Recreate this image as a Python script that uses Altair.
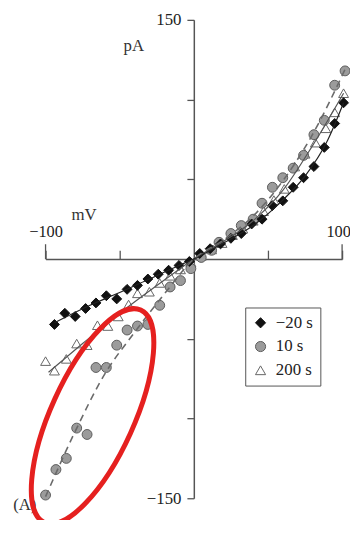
import altair as alt
import pandas as pd

# ---------------- data ----------------
series_names = ["−20 s", "10 s", "200 s"]

dia_x = [-94, -87, -80, -73, -66, -59, -52, -45, -38, -31, -24, -17, -10, -3,
         4, 11, 18, 25, 32, 39, 46, 53, 60, 67, 74, 81, 88, 95, 101]
dia_y = [-41, -34, -36, -31, -27.5, -23, -25, -19, -16.5, -12.5, -9.5, -7, -4, -1.5,
         3.5, 6.5, 9.5, 13, 16, 22, 25, 33.5, 36.5, 45, 51, 58, 70, 85, 98]

cir_x = [-100, -93, -86, -79, -72, -66, -59, -52, -45, -38, -31, -23, -16, -9, -2,
         5, 12, 17, 25, 32, 40, 46, 53, 60, 67, 74, 81, 88, 95, 102]
cir_y = [-148, -132, -125, -106, -110, -68, -68, -54, -44.5, -42, -41, -29, -17.5, -13.5, -6,
         1, 5.5, 10.5, 16, 21, 25, 35, 45, 51, 57, 65, 78, 87, 109, 118]

tri_x = [-100, -94, -86, -79, -72, -65, -58, -51, -44, -38, -30, -23, -16, -9, -2,
         5, 12, 19, 26, 33, 40, 47, 54, 61, 68, 75, 82, 89, 95, 101]
tri_y = [-64, -70, -62.6, -53, -54, -41.5, -42, -36, -28.5, -21.5, -20.5, -15, -10.5, -6.5, -2,
         2, 6, 10, 15, 19, 24, 30, 37, 44, 58, 66, 73, 82, 92, 104]

# fitted curves
fit_d_x = [-94, -70, -50, -30, -10, 0, 20, 40, 60, 75, 90, 101]
fit_d_y = [-40, -29, -21, -12.5, -4, 0, 10, 21, 37, 52, 74, 98]
fit_t_x = [-98, -75, -50, -30, -10, 0, 20, 40, 60, 80, 101]
fit_t_y = [-71, -53, -34, -20, -6.5, 0, 11, 24, 43, 71, 104]
fit_c_x = [-100, -80, -60, -40, -20, 0, 20, 40, 60, 80, 102]
fit_c_y = [-149, -108, -72, -46, -22, 0, 12, 27, 49, 78, 119]

# axis ticks and labels
x_ticks = [-100, -50, 50, 100]
x_end_ticks = [-100, 100]
x_tick_labels = {-100: "−100", 100: "100"}
y_ticks = [-150, -100, -50, 50, 100, 150]
y_tick_labels = {150: "150", -150: "−150"}

# annotations
ann_text = ["pA", "mV", "(A)"]
ann_x = [-40.5, -74, -114]
ann_y = [133.5, 27.8, -154]

# red highlight ellipse (centre in data units)
ell_x = [-68.3]
ell_y = [-98.6]

# ---------------- build ----------------
FONT = "Liberation Serif"
AX = "#555555"

rows = []
for name, xs, ys in [(series_names[2], tri_x, tri_y),
                     (series_names[1], cir_x, cir_y),
                     (series_names[0], dia_x, dia_y)]:
    for xv, yv in zip(xs, ys):
        rows.append({"series": name, "x": xv, "y": yv})
pts = pd.DataFrame(rows)

xscale = alt.Scale(domain=[-100, 100], nice=False, zero=False)
yscale = alt.Scale(domain=[-150, 150], nice=False, zero=False)


def label_expr(d):
    parts = " : ".join(f"datum.value == {k} ? '{v}'" for k, v in d.items())
    return parts + " : ''"


x_axis = alt.Axis(orient="top", offset=-242, values=x_ticks, tickSize=9, tickWidth=1.3,
                  tickColor=AX, domainColor=AX, domainWidth=1.5, grid=False, title=None,
                  labelExpr=label_expr(x_tick_labels), labelFont=FONT, labelFontSize=16.5,
                  labelOffset={"condition": {"test": "datum.value == 100", "value": -4},
                               "value": 0},
                  labelColor="#222222", labelPadding=11, labelOverlap=False, labelFlush=False)
y_axis = alt.Axis(orient="left", offset=-150, values=y_ticks, tickSize=7, tickWidth=1.3,
                  tickColor=AX, domainColor=AX, domainWidth=1.5, grid=False, title=None,
                  labelExpr=label_expr(y_tick_labels), labelFont=FONT, labelFontSize=17,
                  labelColor="#222222", labelPadding=6, labelOverlap=False, labelFlush=False)


def X():
    return alt.X("x:Q", scale=xscale, axis=x_axis)


def Y():
    return alt.Y("y:Q", scale=yscale, axis=y_axis)


legend = alt.Legend(orient="none", legendX=202, legendY=291, title=None,
                    labelFont=FONT, labelFontSize=17, labelColor="#222222",
                    strokeColor=AX, fillColor="white", padding=7, rowPadding=6,
                    labelOffset=7, symbolSize=105, symbolStrokeWidth=1)

points = alt.Chart(pts).mark_point(filled=True, opacity=1, size=100, strokeWidth=1).encode(
    x=X(), y=Y(),
    shape=alt.Shape("series:N", scale=alt.Scale(domain=series_names,
                    range=["diamond", "circle", "triangle-up"]), legend=legend),
    fill=alt.Fill("series:N", scale=alt.Scale(domain=series_names,
                  range=["#111111", "#9b9b9b", "#ffffff"]), legend=legend),
    stroke=alt.Stroke("series:N", scale=alt.Scale(domain=series_names,
                      range=["#111111", "#5c5c5c", "#666666"]), legend=legend),
)


def fit_layer(xs, ys, **kw):
    return alt.Chart(pd.DataFrame({"x": xs, "y": ys})).mark_line(
        interpolate="monotone", **kw).encode(x=X(), y=Y())


line_d = fit_layer(fit_d_x, fit_d_y, color="#222222", strokeWidth=1.2)
line_t = fit_layer(fit_t_x, fit_t_y, color="#555555", strokeWidth=1.2)
line_c = fit_layer(fit_c_x, fit_c_y, color="#6a6a6a", strokeWidth=1.6, strokeDash=[7, 5])

end_ticks = alt.Chart(pd.DataFrame({"x": x_end_ticks, "y": [0, 0]})).mark_tick(
    orient="vertical", size=15, thickness=1.3, color=AX, yOffset=-7.5, opacity=1).encode(
    x=X(), y=Y())

ann = alt.Chart(pd.DataFrame({"t": ann_text, "x": ann_x, "y": ann_y})).mark_text(
    font=FONT, fontSize=17, color="#333333", align="center", baseline="middle").encode(
    x=X(), y=Y(), text="t:N")

ELLIPSE = "M 0 -1 A 0.356 1 0 1 1 0 1 A 0.356 1 0 1 1 0 -1 Z"
ellipse = alt.Chart(pd.DataFrame({"x": ell_x, "y": ell_y})).mark_point(
    shape=ELLIPSE, size=55696, angle=24.4, color="#e5201f", strokeWidth=5,
    opacity=1, filled=False).encode(x=X(), y=Y())

chart = alt.layer(points, line_t, line_d, line_c, end_ticks, ann, ellipse).properties(
    width=300, height=484,
    padding={"left": 38, "top": 9, "right": 8, "bottom": 19},
    autosize=alt.AutoSizeParams(type="none"),
).configure_view(stroke=None)

chart.save("out.html", embed_options={"renderer": "svg", "actions": False})
